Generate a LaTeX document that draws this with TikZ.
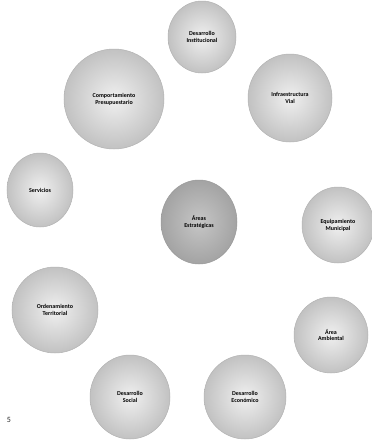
\documentclass[tikz,border=0pt]{standalone}
\usepackage{fontspec}
\setmainfont{Carlito}
\usetikzlibrary{shapes.geometric}
\tikzset{
  ball/.style={ellipse, inner sep=0pt, align=center, draw=gray!60, line width=0.5pt,
    shading=radial, inner color=gray!12, outer color=gray!48,
    font=\fontsize{6}{6.8}\selectfont\bfseries, text=black},
  core/.style={ball, inner color=gray!45, outer color=gray!72, draw=gray!80}
}
\begin{document}
\begin{tikzpicture}[x=1pt,y=-1pt]
\useasboundingbox (0,0) rectangle (372,440);
\node[ball, minimum width=68, minimum height=72] (di) at (202,37) {Desarrollo\\Institucional};
\node[ball, minimum width=100, minimum height=100] (cp) at (114,99) {Comportamiento\\Presupuestario};
\node[ball, minimum width=84, minimum height=88] (iv) at (290,98) {Infraestructura\\Vial};
\node[ball, minimum width=66, minimum height=74] (sv) at (40,190) {Servicios};
\node[core, minimum width=76, minimum height=84] (ae) at (199,222) {Áreas\\Estratégicas};
\node[ball, minimum width=72, minimum height=76] (em) at (338,225) {Equipamiento\\Municipal};
\node[ball, minimum width=86, minimum height=86] (ot) at (55,310) {Ordenamiento\\Territorial};
\node[ball, minimum width=74, minimum height=76] (aa) at (331,335) {Área\\Ambiental};
\node[ball, minimum width=80, minimum height=84] (ds) at (130,397) {Desarrollo\\Social};
\node[ball, minimum width=82, minimum height=84] (de) at (245,397) {Desarrollo\\Económico};
\node[font=\fontsize{8}{9}\selectfont, text=black!85] (pg) at (9,420) {5};
\end{tikzpicture}
\end{document}
